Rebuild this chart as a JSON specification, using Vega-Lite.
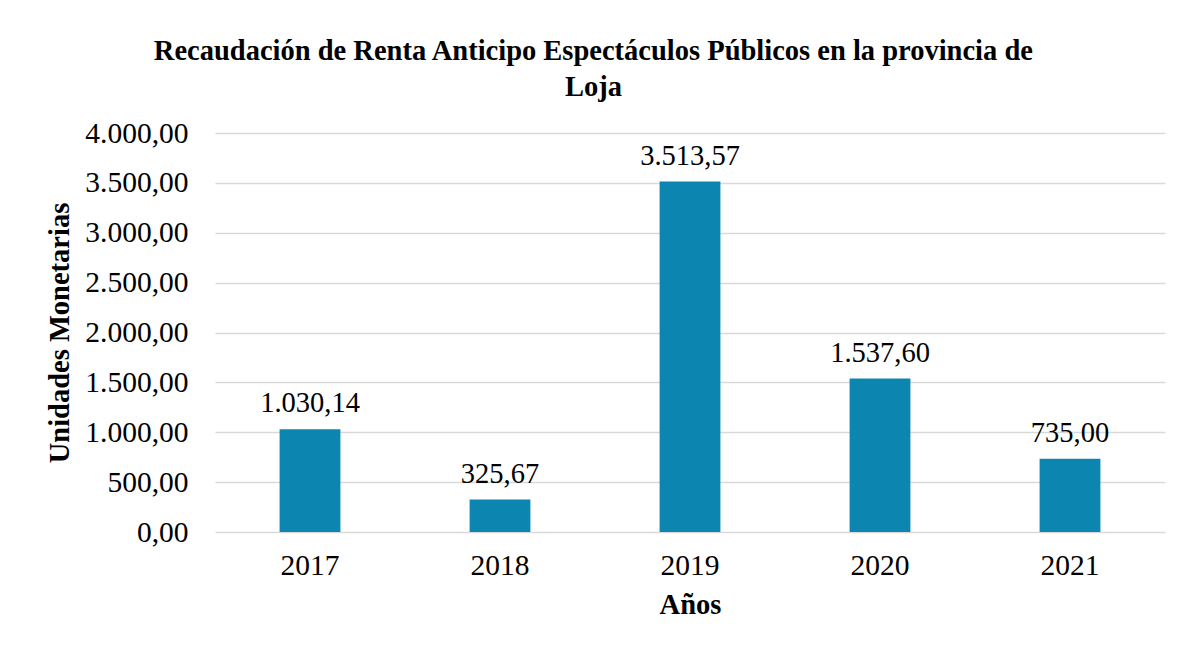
{
  "$schema": "https://vega.github.io/schema/vega-lite/v6.json",
  "autosize": {"type": "none"},
  "width": 950,
  "height": 399,
  "padding": {"left": 215, "top": 133, "right": 35, "bottom": 116},
  "background": "white",
  "config": {
    "font": "Liberation Serif",
    "view": {"stroke": null},
    "locale": {"number": {"decimal": ",", "thousands": ".", "grouping": [3], "currency": ["$", ""]}}
  },
  "title": {
    "text": ["Recaudación de Renta Anticipo Espectáculos Públicos en la provincia de", "Loja"],
    "font": "Liberation Serif",
    "fontSize": 28.5,
    "fontWeight": "bold",
    "color": "#000000",
    "anchor": "middle",
    "frame": "bounds",
    "lineHeight": 36,
    "offset": 17,
    "dx": -12
  },
  "data": {
    "values": [
      {"year": "2017", "value": 1030.14},
      {"year": "2018", "value": 325.67},
      {"year": "2019", "value": 3513.57},
      {"year": "2020", "value": 1537.60},
      {"year": "2021", "value": 735.00}
    ]
  },
  "encoding": {
    "x": {
      "field": "year",
      "type": "nominal",
      "scale": {"paddingInner": 0.68, "paddingOuter": 0.34},
      "axis": {
        "title": "Años",
        "labelAngle": 0,
        "labelFont": "Liberation Serif",
        "labelFontSize": 29.5,
        "labelColor": "#000000",
        "labelPadding": 19,
        "ticks": false,
        "domain": false,
        "titleFont": "Liberation Serif",
        "titleFontSize": 28.5,
        "titleFontWeight": "bold",
        "titleColor": "#000000",
        "titlePadding": 11
      }
    },
    "y": {
      "field": "value",
      "type": "quantitative",
      "scale": {"domain": [0, 4000], "nice": false},
      "axis": {
        "title": "Unidades Monetarias",
        "values": [0, 500, 1000, 1500, 2000, 2500, 3000, 3500, 4000],
        "format": ",.2f",
        "labelFont": "Liberation Serif",
        "labelFontSize": 29.5,
        "labelColor": "#000000",
        "labelPadding": 27,
        "ticks": false,
        "domain": false,
        "grid": true,
        "gridColor": "#d9d9d9",
        "gridWidth": 1.5,
        "titleFont": "Liberation Serif",
        "titleFontSize": 28.5,
        "titleFontWeight": "bold",
        "titleColor": "#000000",
        "titlePadding": 10
      }
    }
  },
  "layer": [
    {"mark": {"type": "bar", "color": "#0C86B1"}},
    {
      "mark": {"type": "text", "font": "Liberation Serif", "fontSize": 28.5, "color": "#000000", "baseline": "alphabetic", "dy": -17},
      "encoding": {"text": {"field": "value", "type": "quantitative", "format": ",.2f"}}
    }
  ]
}
